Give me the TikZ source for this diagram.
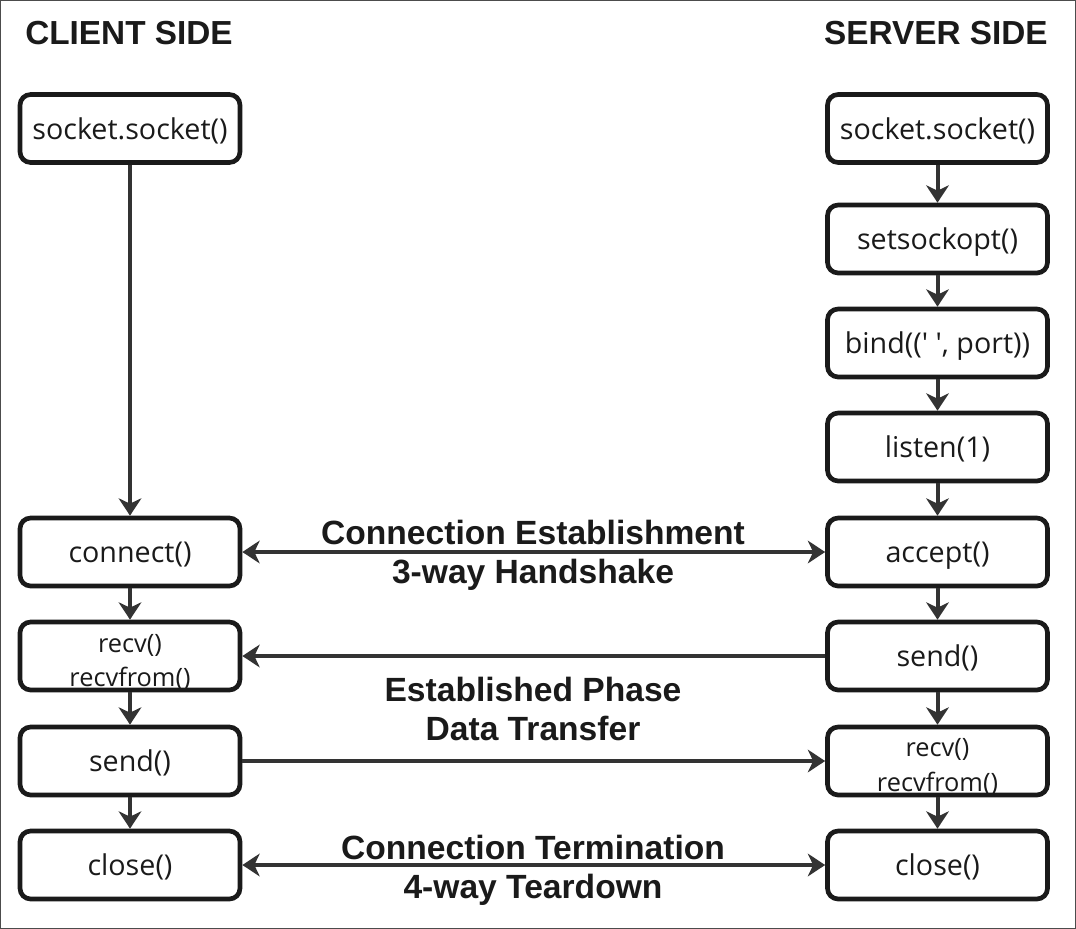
\documentclass[tikz,border=0pt]{standalone}
\usepackage{fontspec}
\setmainfont{Open Sans}
\newfontfamily\headfont{Liberation Sans}
\usetikzlibrary{arrows.meta}
\definecolor{ink}{HTML}{1A1A1A}
\definecolor{arr}{HTML}{333333}
\tikzset{
  box/.style={draw=ink, line width=3.5pt, rounded corners=8pt, minimum width=165pt, minimum height=51pt, inner sep=0pt, text=ink, text depth=0pt, font=\fontsize{21.5}{25}\selectfont},
  smalltext/.style={font=\fontsize{19}{26}\selectfont, align=center, text=ink, inner sep=0pt},
  head/.style={font=\headfont\bfseries\fontsize{25}{29}\selectfont, text=ink, inner sep=0pt},
  lab/.style={font=\headfont\bfseries\fontsize{25.2}{29}\selectfont, text=ink, align=center},
  conn/.style={draw=arr, line width=3pt, -{Stealth[length=13pt,width=17pt,inset=4pt]}},
  dconn/.style={draw=arr, line width=3pt, {Stealth[length=13pt,width=17pt,inset=4pt]}-{Stealth[length=13pt,width=17pt,inset=4pt]}}
}
\begin{document}
\begin{tikzpicture}[x=0.75pt,y=-0.75pt]
\useasboundingbox (0,0) rectangle (1076,929);
\draw[draw=black!70, line width=1pt] (0.7,0.7) rectangle (1075.3,928.3);
\node[head, anchor=west] (ct) at (25,33) {CLIENT SIDE};
\node[head, anchor=east] (st) at (1048,33) {SERVER SIDE};
% client
\node[box] (cs) at (130,128.5) {socket.socket()};
\node[box] (cc) at (130,552) {connect()};
\node[box] (cr) at (130,656) {};
\node[smalltext] (crt) at (130,662.5) {recv()\\recvfrom()};
\node[box] (cse) at (130,761) {send()};
\node[box] (ccl) at (130,865) {close()};
% server
\node[box] (ss) at (937.5,128.5) {socket.socket()};
\node[box] (so) at (937.5,239) {setsockopt()};
\node[box] (sb) at (937.5,343) {bind((\textquotesingle\ \textquotesingle, port))};
\node[box] (sl) at (937.5,447) {listen(1)};
\node[box] (sa) at (937.5,552) {accept()};
\node[box] (sse) at (937.5,656) {send()};
\node[box] (sr) at (937.5,761) {};
\node[smalltext] (srt) at (937.5,767) {recv()\\recvfrom()};
\node[box] (scl) at (937.5,865) {close()};
% vertical arrows
\draw[conn] (cs) -- (cc);
\draw[conn] (cc) -- (cr);
\draw[conn] (cr) -- (cse);
\draw[conn] (cse) -- (ccl);
\draw[conn] (ss) -- (so);
\draw[conn] (so) -- (sb);
\draw[conn] (sb) -- (sl);
\draw[conn] (sl) -- (sa);
\draw[conn] (sa) -- (sse);
\draw[conn] (sse) -- (sr);
\draw[conn] (sr) -- (scl);
% horizontal arrows
\draw[dconn] (cc) -- (sa);
\draw[conn] (sse.west) -- (sse.west -| cr.east);
\draw[conn] (cse.east) -- (cse.east -| sr.west);
\draw[dconn] (ccl) -- (scl);
% labels
\node[lab] (l1) at (533,555) {Connection Establishment\\3-way Handshake};
\node[lab] (l2) at (533,709) {Established Phase\\Data Transfer};
\node[lab] (l3) at (533,870) {Connection Termination\\4-way Teardown};
\end{tikzpicture}
\end{document}
